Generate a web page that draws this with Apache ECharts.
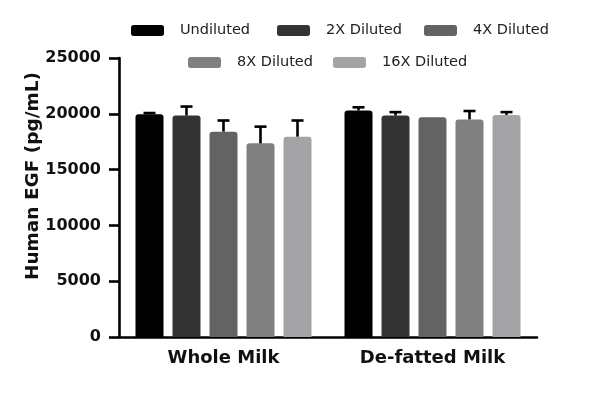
<!DOCTYPE html>
<html>
<head>
<meta charset="utf-8">
<script src="https://cdn.jsdelivr.net/npm/echarts@6/dist/echarts.min.js"></script>
<style>html,body{margin:0;padding:0;background:#fff;}#c{width:600px;height:395px;}</style>
</head>
<body>
<div id="c"></div>
<script>
const categories = ['Whole Milk', 'De-fatted Milk'];
const seriesNames = ['Undiluted', '2X Diluted', '4X Diluted', '8X Diluted', '16X Diluted'];
const undiluted = [19950, 20300];
const diluted2x = [19850, 19850];
const diluted4x = [18400, 19700];
const diluted8x = [17350, 19500];
const diluted16x = [17950, 19900];
const errUndiluted = [120, 280];
const err2x = [800, 300];
const err4x = [1000, 0];
const err8x = [1500, 750];
const err16x = [1450, 250];
const yTicks = [0, 5000, 10000, 15000, 20000, 25000];

const means = [undiluted, diluted2x, diluted4x, diluted8x, diluted16x];
const errs = [errUndiluted, err2x, err4x, err8x, err16x];
const colors = ['#000000', '#333333', '#636363', '#808080', '#a4a4a7'];
const BAR_W = 28, BAR_GAP = 9;

const legendPos = [[131, 23], [277, 23], [424, 23], [188, 55], [333, 55]];

const series = [];
seriesNames.forEach((name, i) => {
  series.push({
    name: name, type: 'bar', data: means[i],
    barWidth: BAR_W, barGap: (BAR_GAP / BAR_W * 100) + '%',
    itemStyle: { color: colors[i], borderRadius: [3, 3, 0, 0] },
    z: 2
  });
});
seriesNames.forEach((name, i) => {
  series.push({
    type: 'custom', z: 3, silent: true,
    data: categories.map((c, k) => [k, means[i][k], errs[i][k]]),
    encode: { x: 0, y: 1 },
    renderItem: function (params, api) {
      const k = api.value(0), m = api.value(1), e = api.value(2);
      if (!e) return null;
      const off = (i - 2) * (BAR_W + BAR_GAP);
      const p0 = api.coord([k, m]);
      const p1 = api.coord([k, m + e]);
      const x = p0[0] + off;
      const style = { stroke: '#000', lineWidth: 2.6 };
      return { type: 'group', children: [
        { type: 'line', shape: { x1: x, y1: p0[1], x2: x, y2: p1[1] }, style: style },
        { type: 'line', shape: { x1: x - 6, y1: p1[1], x2: x + 6, y2: p1[1] }, style: style }
      ]};
    }
  });
});

const legends = seriesNames.map((name, i) => ({
  data: [name], left: legendPos[i][0], top: legendPos[i][1], padding: 0,
  icon: 'roundRect', itemWidth: 33, itemHeight: 11,
  textStyle: { fontFamily: 'DejaVu Sans', fontSize: 14.5, color: '#222', padding: [2, 0, 0, 11] },
  selectedMode: false
}));

const chart = echarts.init(document.getElementById('c'), null, { renderer: 'canvas' });
chart.setOption({
  animation: false,
  backgroundColor: '#fff',
  legend: legends,
  grid: { left: 119, right: 63, top: 58, bottom: 58, containLabel: false },
  xAxis: {
    type: 'category', data: categories,
    axisLine: { lineStyle: { color: '#000', width: 2.6 } },
    axisTick: { alignWithLabel: true, length: 7, lineStyle: { color: '#000', width: 2.6 } },
    axisLabel: { color: '#111', fontFamily: 'DejaVu Sans', fontWeight: 'bold', fontSize: 18, margin: 12 }
  },
  yAxis: {
    type: 'value', min: yTicks[0], max: yTicks[yTicks.length - 1], interval: yTicks[1] - yTicks[0],
    splitLine: { show: false },
    axisLine: { show: true, lineStyle: { color: '#000', width: 2.6 } },
    axisTick: { show: true, length: 10, lineStyle: { color: '#000', width: 2.6 } },
    axisLabel: { color: '#111', fontFamily: 'DejaVu Sans', fontWeight: 'bold', fontSize: 16, margin: 18,
                 formatter: function (v) { return String(v); } }
  },
  graphic: [{
    type: 'text', x: 33, y: 176, rotation: Math.PI / 2,
    style: { text: 'Human EGF (pg/mL)', fontFamily: 'DejaVu Sans', fontWeight: 'bold', fontSize: 18.5,
             fill: '#111', align: 'center', verticalAlign: 'middle' }
  }],
  series: series
});
</script>
</body>
</html>
